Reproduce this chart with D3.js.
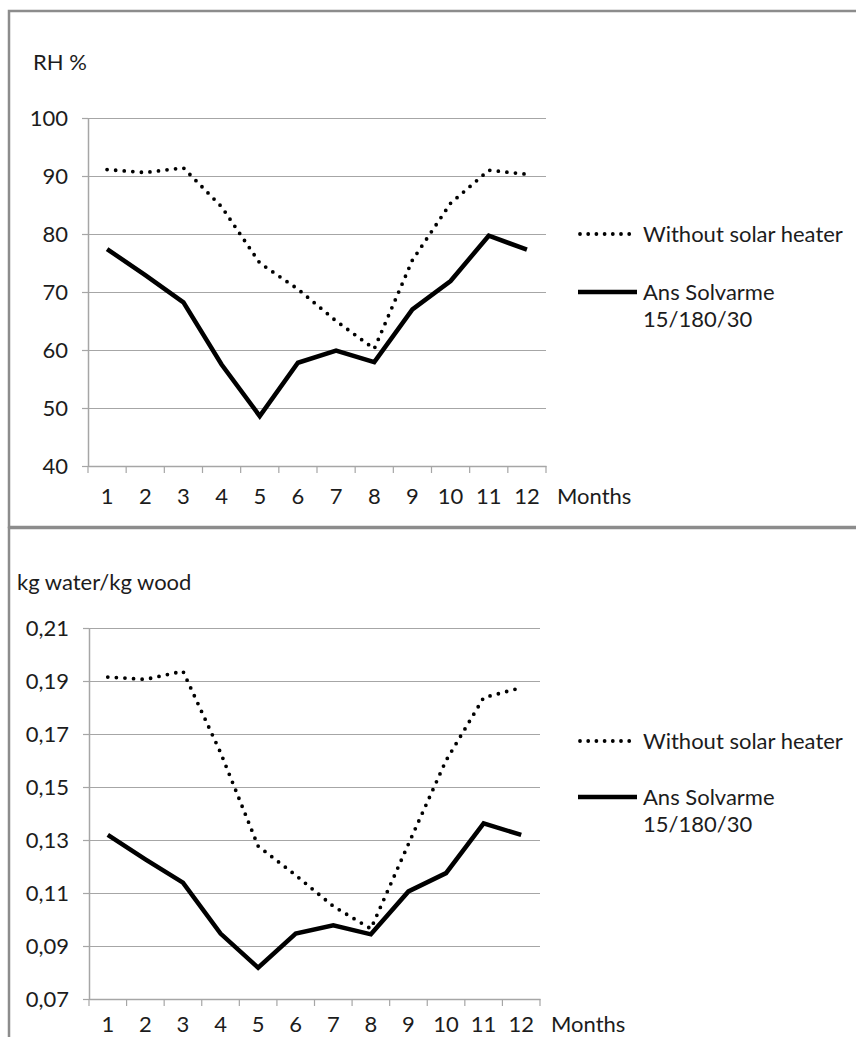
<!DOCTYPE html>
<html>
<head>
<meta charset="utf-8">
<script src="https://cdn.jsdelivr.net/npm/d3@7"></script>
<style>
  body { margin: 0; background: #fff; }
  svg text { font-family: Lato, "Noto Sans", sans-serif; fill: #1c1c1c; }
</style>
</head>
<body>
<div id="chart"></div>
<script>
// month categories shared by both panels
var months = [1, 2, 3, 4, 5, 6, 7, 8, 9, 10, 11, 12];
var seriesNames = ['Without solar heater', 'Ans Solvarme', '15/180/30'];

// top panel: relative humidity
var rhTicks = [40, 50, 60, 70, 80, 90, 100];
var rhWithout = [91.1, 90.6, 91.4, 84.7, 75.0, 70.5, 65.0, 60.2, 75.5, 85.3, 91.0, 90.3];
var rhSolar = [77.4, 72.9, 68.2, 57.5, 48.6, 57.8, 59.9, 57.9, 67.0, 71.9, 79.7, 77.3];

// bottom panel: moisture content
var mcTicks = [0.07, 0.09, 0.11, 0.13, 0.15, 0.17, 0.19, 0.21];
var mcWithout = [0.1915, 0.1906, 0.1937, 0.1630, 0.1277, 0.1167, 0.1050, 0.0965, 0.1285, 0.1600, 0.1837, 0.1875];
var mcSolar = [0.1319, 0.1227, 0.1139, 0.0947, 0.0818, 0.0947, 0.0978, 0.0944, 0.1106, 0.1175, 0.1363, 0.1319];

var W = 856, H = 1037;
var gridColor = '#a6a6a6';
var borderColor = '#8c8c8c';
var fontSize = 22;

var svg = d3.select('#chart')
    .append('svg')
    .attr('width', W)
    .attr('height', H);

// panel frames
svg.append('rect')
    .attr('x', 9).attr('y', 11)
    .attr('width', 900).attr('height', 516)
    .attr('fill', 'none')
    .attr('stroke', borderColor)
    .attr('stroke-width', 2.5);
svg.append('rect')
    .attr('x', 9).attr('y', 528)
    .attr('width', 900).attr('height', 600)
    .attr('fill', 'none')
    .attr('stroke', borderColor)
    .attr('stroke-width', 2.5);

var commaFmt = d3.formatLocale({decimal: ',', thousands: '.', grouping: [3], currency: ['', '']}).format('.2f');

/**
 * draw one line chart panel
 */
function drawPanel(p) {
    var x = d3.scaleBand()
        .domain(months)
        .range([p.left, p.right]);
    var y = d3.scaleLinear()
        .domain([p.ticks[0], p.ticks[p.ticks.length - 1]])
        .range([p.bottom, p.top]);

    var g = svg.append('g');

    // gridlines
    g.append('g')
        .attr('transform', 'translate(' + p.left + ',0)')
        .call(d3.axisLeft(y).tickValues(p.ticks).tickSize(-(p.right - p.left)).tickFormat(''))
        .call(function (s) {
            s.select('.domain').remove();
            s.selectAll('line').attr('stroke', gridColor).attr('stroke-width', 1.2);
        });

    // y axis with tick stubs and labels
    g.append('g')
        .attr('transform', 'translate(' + p.left + ',0)')
        .call(d3.axisLeft(y).tickValues(p.ticks).tickSizeInner(6).tickSizeOuter(0).tickPadding(14).tickFormat(p.fmt))
        .call(function (s) {
            s.select('.domain').attr('stroke', gridColor).attr('stroke-width', 1.5);
            s.selectAll('line').attr('stroke', gridColor).attr('stroke-width', 1.2);
            s.selectAll('text').style('font-size', fontSize + 'px').attr('dy', '0.35em');
        });

    // x axis: labels at band centres, ticks at band edges
    var xa = g.append('g')
        .attr('transform', 'translate(0,' + p.bottom + ')')
        .call(d3.axisBottom(x).tickSize(0).tickPadding(p.labelPad))
        .call(function (s) {
            s.select('.domain').attr('stroke', gridColor).attr('stroke-width', 1.5);
            s.selectAll('text').style('font-size', fontSize + 'px');
        });
    var edges = months.map(function (m) { return x(m); }).concat([x(months[months.length - 1]) + x.bandwidth()]);
    xa.selectAll('.edge')
        .data(edges)
        .enter()
        .append('line')
        .attr('x1', function (d) { return d; })
        .attr('x2', function (d) { return d; })
        .attr('y1', 0).attr('y2', 7)
        .attr('stroke', gridColor)
        .attr('stroke-width', 1.2);

    g.append('text')
        .attr('x', p.right + 11)
        .attr('y', p.bottom + p.labelPad)
        .attr('dy', '0.71em')
        .style('font-size', fontSize + 'px')
        .text('Months');

    g.append('text')
        .attr('x', p.titleX)
        .attr('y', p.titleY)
        .attr('dy', '0.35em')
        .style('font-size', fontSize + 'px')
        .text(p.title);

    var line = d3.line()
        .x(function (d, i) { return x(months[i]) + x.bandwidth() / 2; })
        .y(function (d) { return y(d); });

    g.append('path')
        .datum(p.without)
        .attr('d', line)
        .attr('fill', 'none')
        .attr('stroke', '#000')
        .attr('stroke-width', 3.8)
        .attr('stroke-linecap', 'round')
        .attr('stroke-dasharray', '0 8.6');

    g.append('path')
        .datum(p.solar)
        .attr('d', line)
        .attr('fill', 'none')
        .attr('stroke', '#000')
        .attr('stroke-width', 4.5)
        .attr('stroke-linejoin', 'miter');

    // legend
    var lg = g.append('g').attr('transform', 'translate(578,' + p.legendY + ')');
    lg.append('line')
        .attr('x1', 2).attr('x2', 58).attr('y1', 0).attr('y2', 0)
        .attr('stroke', '#000')
        .attr('stroke-width', 3.8)
        .attr('stroke-linecap', 'round')
        .attr('stroke-dasharray', '0 8.2');
    lg.append('text')
        .attr('x', 65).attr('y', 0).attr('dy', '0.35em')
        .style('font-size', fontSize + 'px')
        .text(seriesNames[0]);
    lg.append('line')
        .attr('x1', 0).attr('x2', 59).attr('y1', p.legendGap).attr('y2', p.legendGap)
        .attr('stroke', '#000')
        .attr('stroke-width', 4.5);
    lg.append('text')
        .attr('x', 65).attr('y', p.legendGap).attr('dy', '0.35em')
        .style('font-size', fontSize + 'px')
        .text(seriesNames[1]);
    lg.append('text')
        .attr('x', 65).attr('y', p.legendGap + 27).attr('dy', '0.35em')
        .style('font-size', fontSize + 'px')
        .text(seriesNames[2]);
}

drawPanel({
    left: 88, right: 546, top: 118, bottom: 466,
    ticks: rhTicks, fmt: d3.format('d'),
    without: rhWithout, solar: rhSolar,
    title: 'RH %', titleX: 33, titleY: 62,
    labelPad: 22, legendY: 234, legendGap: 58
});

drawPanel({
    left: 89, right: 540, top: 628, bottom: 999,
    ticks: mcTicks, fmt: commaFmt,
    without: mcWithout, solar: mcSolar,
    title: 'kg water/kg wood', titleX: 17, titleY: 582,
    labelPad: 17, legendY: 741, legendGap: 56
});
</script>
</body>
</html>
